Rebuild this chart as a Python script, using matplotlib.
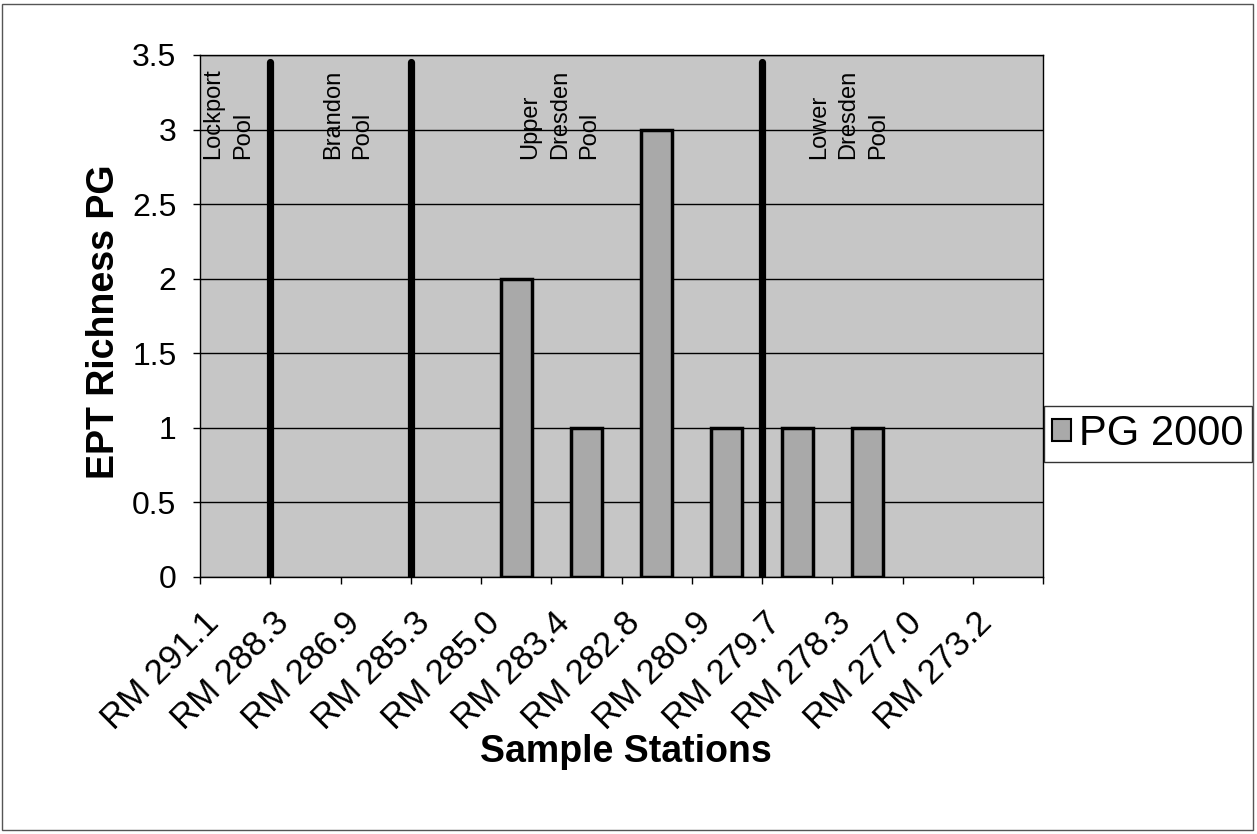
import matplotlib
matplotlib.use("Agg")
import matplotlib.pyplot as plt
from matplotlib.patches import Rectangle, Patch
from matplotlib.transforms import ScaledTranslation
import numpy as np

plt.rcParams['font.family'] = ['Liberation Sans', 'DejaVu Sans']

# data
stations = ['RM 291.1', 'RM 288.3', 'RM 286.9', 'RM 285.3', 'RM 285.0', 'RM 283.4',
            'RM 282.8', 'RM 280.9', 'RM 279.7', 'RM 278.3', 'RM 277.0', 'RM 273.2']
pg_2000 = [0, 0, 0, 0, 2, 1, 3, 1, 1, 1, 0, 0]
series_name = 'PG 2000'

# pool dividers: drawn between a station and the next one
divider_after = ['RM 291.1', 'RM 286.9', 'RM 280.9']
divider_top = 3.45
pool_names = ['Lockport\nPool', 'Brandon\nPool', 'Upper\nDresden\nPool', 'Lower\nDresden\nPool']
pool_label_x = [-0.1, 1.6, 4.62, 8.73]
pool_label_y = 2.8

bar_color = '#a9a9a9'
x = np.arange(len(stations))

fig = plt.figure(figsize=(12.57, 8.34), dpi=100)
ax = fig.add_axes([200 / 1257, 1 - 577 / 834, 843 / 1257, 522 / 834])
ax.set_facecolor('#c6c6c6')

ax.set_ylim(0, 3.5)
ax.set_xlim(-0.5, len(stations) - 0.5)
ax.set_yticks(np.arange(0, 3.51, 0.5))
ax.set_yticklabels(['0', '0.5', '1', '1.5', '2', '2.5', '3', '3.5'])
ax.yaxis.grid(True, color='black', linewidth=1)
ax.set_axisbelow(True)

edge_w = [2.5 if v > 0 else 0 for v in pg_2000]
ax.bar(x, pg_2000, width=0.44, color=bar_color, edgecolor='black', linewidth=edge_w,
       zorder=3)

for name in divider_after:
    xi = stations.index(name) + 0.5
    ax.plot([xi, xi], [0, divider_top], color='black', linewidth=5.2,
            solid_capstyle='round', zorder=4)

for name, px in zip(pool_names, pool_label_x):
    ax.text(px, pool_label_y, name, rotation=90, ha='center', va='bottom',
            multialignment='left', fontsize=17, linespacing=1.45, zorder=5)

# category labels, drawn as text so they can be nudged like the original
ax.set_xticks(x)
ax.set_xticklabels([])
ax.set_xticks(np.arange(-0.5, len(stations)), minor=True)
ax.tick_params(axis='x', which='major', length=0)
ax.tick_params(axis='x', which='minor', length=5, width=1, direction='out')
ax.tick_params(axis='y', length=5, width=1, labelsize=23, pad=12)
nudge = ScaledTranslation(-33 / 100, -29 / 100, fig.dpi_scale_trans)
for i, name in enumerate(stations):
    ax.text(i, 0, name, transform=ax.get_xaxis_transform() + nudge,
            rotation=45, rotation_mode='anchor', ha='right', va='top',
            fontsize=25, clip_on=False)

for s in ax.spines.values():
    s.set_color('black')
    s.set_linewidth(1)

ax.set_ylabel('EPT Richness PG', fontsize=27, fontweight='bold')
ax.yaxis.set_label_coords(-0.092, 0.49)
ax.set_xlabel('Sample Stations', fontsize=27, fontweight='bold')
ax.xaxis.set_label_coords(0.505, -0.30)

handle = Patch(facecolor=bar_color, edgecolor='black', linewidth=1.5)
leg = ax.legend([handle], [series_name], loc='center left',
                bbox_to_anchor=(1044 / 1257, 1 - 434 / 834),
                bbox_transform=fig.transFigure, fontsize=30, frameon=True,
                fancybox=False, handlelength=0.45, handleheight=0.45,
                handletextpad=0.2, borderpad=0.2, borderaxespad=0)
leg.get_frame().set_edgecolor('black')
leg.get_frame().set_linewidth(1)

fig.patches.append(Rectangle((2 / 1257, 4 / 834), 1251 / 1257, 826 / 834,
                             transform=fig.transFigure, fill=False,
                             edgecolor='#555555', linewidth=1))

fig.savefig('out.png', dpi=100)
